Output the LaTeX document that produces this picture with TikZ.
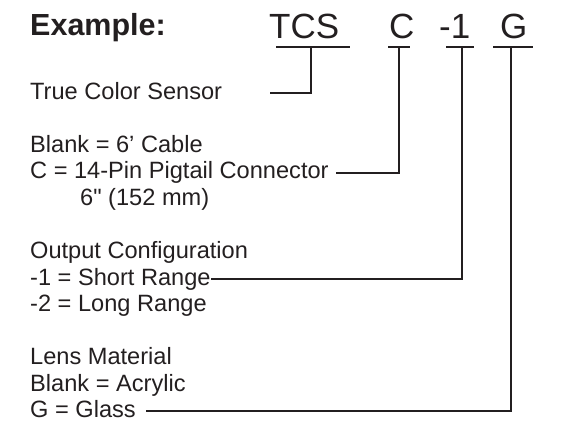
\documentclass[tikz,border=0pt]{standalone}
\usepackage{fontspec}
\setmainfont{Liberation Sans}[Ligatures=TeXOff]
\definecolor{ink}{RGB}{35,31,32}

\begin{document}
\begin{tikzpicture}[x=1pt, y=-1pt, ink,
  title/.style={font=\fontsize{30.5}{32}\selectfont\bfseries, inner sep=0pt, anchor=base west},
  code/.style={font=\fontsize{35}{36}\selectfont, inner sep=0pt, anchor=base west},
  item/.style={font=\fontsize{23.6}{26}\selectfont, inner sep=0pt, anchor=base west, text height=12pt, text depth=0pt},
  lead/.style={line width=2pt}]
  \useasboundingbox (0,0) rectangle (563,421);

  % 型号
  \node[title] (example) at (30,35) {Example:};
  \node[code] (tcs) at (269,38) {TCS};
  \node[code] (cable) at (389,38) {C};
  \node[code] (range) at (439,38) {-1};
  \node[code] (lens) at (500,38) {G};

  % 说明文字
  \node[item] (sensor) at (30,99) {True Color Sensor};
  \node[item] (blank) at (30,152.2) {Blank = 6’ Cable};
  \node[item] (pigtail) at (30,178.8) {C = 14-Pin Pigtail Connector};
  \node[item] (length) at (80,205.4) {6" (152 mm)};
  \node[item] (output) at (30,258.6) {Output Configuration};
  \node[item] (short) at (30,285.2) {-1 = Short Range};
  \node[item] (long) at (30,311.8) {-2 = Long Range};
  \node[item] (material) at (30,364.6) {Lens Material};
  \node[item] (acrylic) at (30,391) {Blank = Acrylic};
  \node[item] (glass) at (30,417.2) {G = Glass};

  % 下划线与引线
  \coordinate (tcsTap) at (311,47);
  \coordinate (cableTap) at (399,47);
  \coordinate (rangeTap) at (462,47);
  \coordinate (lensTap) at (511,47);
  \draw[lead] ([xshift=-35pt]tcsTap) -- ([xshift=39pt]tcsTap);
  \draw[lead] ([xshift=-11pt]cableTap) -- ([xshift=11pt]cableTap);
  \draw[lead] ([xshift=-16pt]rangeTap) -- ([xshift=12pt]rangeTap);
  \draw[lead] ([xshift=-18pt]lensTap) -- ([xshift=22pt]lensTap);

  \draw[lead] (tcsTap) |- ([xshift=48pt]sensor.east);
  \draw[lead] (cableTap) |- ([xshift=7pt]pigtail.east);
  \draw[lead] (rangeTap) |- (short.east);
  \draw[lead] (lensTap) |- ([xshift=10pt]glass.east);
\end{tikzpicture}
\end{document}
